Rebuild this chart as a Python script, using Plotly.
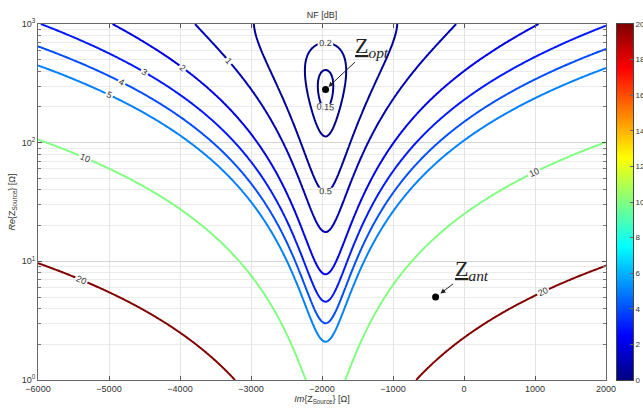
import numpy as np
import plotly.graph_objects as go

# ---- values ----
contour_levels = [0.15, 0.2, 0.5, 1, 2, 3, 4, 5, 10, 20]   # NF [dB]
z_opt = [-1950, 280]        # [Im, Re] of optimum source impedance (ohm)
z_ant = [-400, 5]           # [Im, Re] of antenna impedance (ohm)
nf_min_db = [0.14]          # minimum noise figure (dB)
g_n = [5.8e-5]              # noise conductance (S)
x_ticks = [-6000, -5000, -4000, -3000, -2000, -1000, 0, 1000, 2000]
y_ticks = [1, 10, 100, 1000]
y_tick_text = ["10<sup>0</sup>", "10<sup>1</sup>", "10<sup>2</sup>", "10<sup>3</sup>"]
cbar_ticks = [0, 2, 4, 6, 8, 10, 12, 14, 16, 18, 20]
cbar_range = [0, 20]

# evaluation grid
xs = np.linspace(-6000, 2000, 500)
rs = np.logspace(0, 3, 400)
X, R = np.meshgrid(xs, rs)
Fmin = 10 ** (nf_min_db[0] / 10)
F = Fmin + g_n[0] / R * ((R - z_opt[1]) ** 2 + (X - z_opt[0]) ** 2)
NF = 10 * np.log10(F)

# MATLAB jet
jet_pts = [(0, (0, 0, 0.5)), (1/8, (0, 0, 1)), (3/8, (0, 1, 1)),
           (5/8, (1, 1, 0)), (7/8, (1, 0, 0)), (1, (0.5, 0, 0))]
def jet(t):
    t = min(max(t, 0), 1)
    for (a, ca), (b, cb) in zip(jet_pts[:-1], jet_pts[1:]):
        if a <= t <= b:
            f = (t - a) / (b - a)
            c = [ca[i] + f * (cb[i] - ca[i]) for i in range(3)]
            return "rgb(%d,%d,%d)" % tuple(round(255 * v) for v in c)
    return "rgb(128,0,0)"
jet_scale = [[p, jet(p)] for p in np.linspace(0, 1, 33)]

fig = go.Figure()
for lv in contour_levels:
    fig.add_trace(go.Contour(
        x=xs, y=rs, z=NF, showscale=False, hoverinfo="skip",
        contours=dict(start=lv, end=lv, size=1, coloring="none",
                      showlabels=True,
                      labelfont=dict(size=9, color="#333", family="Liberation Sans")),
        line=dict(color=jet(lv / cbar_range[1]), width=2),
        xaxis="x", yaxis="y",
    ))

# markers
fig.add_trace(go.Scatter(x=[z_opt[0], z_ant[0]], y=[z_opt[1], z_ant[1]], mode="markers",
                         marker=dict(color="black", size=7), showlegend=False, hoverinfo="skip",
                         xaxis="x", yaxis="y"))

# colour bar drawn as a heatmap on its own axes
cb_vals = np.linspace(cbar_range[0], cbar_range[1], 201)
fig.add_trace(go.Heatmap(x=[0], y=cb_vals, z=[[v] for v in cb_vals], zmin=cbar_range[0],
                         zmax=cbar_range[1], colorscale=jet_scale, showscale=False,
                         hoverinfo="skip", xaxis="x2", yaxis="y2"))

serif = dict(family="Liberation Serif", size=22, color="#222")
fig.add_annotation(x=z_opt[0], y=np.log10(z_opt[1]), text="<u>Z</u><sub><i>opt</i></sub>",
                   showarrow=True, ax=46, ay=-43, arrowhead=2, arrowsize=1, arrowwidth=1,
                   arrowcolor="#222", standoff=4, font=serif, xref="x", yref="y")
fig.add_annotation(x=z_ant[0], y=np.log10(z_ant[1]), text="<u>Z</u><sub><i>ant</i></sub>",
                   showarrow=True, ax=36, ay=-27, arrowhead=2, arrowsize=1, arrowwidth=1,
                   arrowcolor="#222", standoff=6, font=serif, xref="x", yref="y")

axfont = dict(size=9, color="#333", family="Liberation Sans")
cbfont = dict(size=8, color="#333", family="Liberation Sans")
W, H = 643, 408
ml, mr = 38, 10
pw = W - ml - mr
fig.update_layout(
    width=W, height=H,
    margin=dict(l=ml, r=mr, t=24, b=28),
    paper_bgcolor="white", plot_bgcolor="white",
    showlegend=False,
    title=dict(text="NF [dB]", x=322 / W, xref="container", y=0.963, yref="container",
               xanchor="center", yanchor="middle",
               font=dict(size=9, color="#333", family="Liberation Sans")),
    xaxis=dict(domain=[0, 568 / pw], range=[-6000, 2000], tickvals=x_ticks, ticks="inside",
               ticklen=4, tickcolor="#555", showline=True, linecolor="#666", mirror="ticks",
               showgrid=True, gridcolor="#e4e4e4", zeroline=False, automargin=False,
               tickfont=axfont, anchor="y",
               title=dict(text="<i>Im</i>{Z<sub>Source</sub>} [Ω]", font=axfont, standoff=2)),
    yaxis=dict(type="log", range=[0, 3], tickvals=y_ticks, ticktext=y_tick_text,
               ticks="inside", ticklen=4, tickcolor="#555", showline=True,
               linecolor="#666", mirror="ticks", showgrid=True, gridcolor="#d4d4d4",
               zeroline=False, automargin=False, tickfont=axfont, anchor="x",
               minor=dict(dtick="D1", ticks="inside", ticklen=3, tickcolor="#777",
                          showgrid=True, gridcolor="#ebebeb"),
               title=dict(text="<i>Re</i>{Z<sub>Source</sub>} [Ω]", font=axfont, standoff=4)),
    xaxis2=dict(domain=[(617 - ml) / pw, (633 - ml) / pw], anchor="y2", showticklabels=False,
                ticks="", showgrid=False, zeroline=False, showline=True, linecolor="#444",
                mirror=True, fixedrange=True, automargin=False),
    yaxis2=dict(domain=[0, 1], anchor="x2", side="right", range=cbar_range,
                tickvals=cbar_ticks, ticks="inside", ticklen=3, tickcolor="#666",
                ticklabelstandoff=0,
                showgrid=False, zeroline=False, showline=True, linecolor="#444",
                mirror=True, automargin=False, tickfont=cbfont),
)

fig.write_html("out.html")
